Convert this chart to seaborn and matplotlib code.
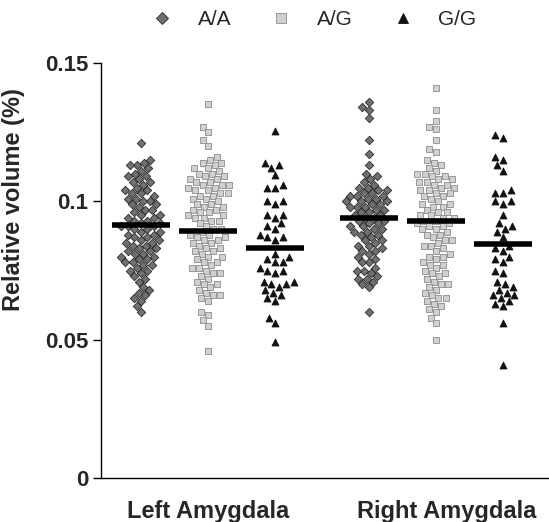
import numpy as np
import pandas as pd
import matplotlib
matplotlib.use("Agg")
import matplotlib.pyplot as plt
import matplotlib.transforms as mtransforms
import seaborn as sns
from matplotlib.lines import Line2D

regions = ["Left Amygdala", "Right Amygdala"]
genotypes = ["A/A", "A/G", "G/G"]

# values (relative volume, %)
left_aa = [0.121,
           0.115, 0.114, 0.113, 0.113, 0.112, 0.111,
           0.110, 0.109, 0.109, 0.108, 0.107, 0.107, 0.106, 0.105, 0.104, 0.104,
           0.103, 0.103, 0.102, 0.101, 0.101, 0.100, 0.100, 0.099, 0.099, 0.098, 0.097, 0.097, 0.096,
           0.095, 0.095, 0.094, 0.094, 0.093, 0.093, 0.092, 0.092, 0.091, 0.091, 0.091, 0.090, 0.090,
           0.089, 0.089, 0.088, 0.088, 0.087, 0.087, 0.086, 0.086, 0.085, 0.085,
           0.084, 0.084, 0.083, 0.083, 0.082, 0.082, 0.081, 0.081, 0.080, 0.080, 0.079, 0.079,
           0.078, 0.078, 0.077, 0.077, 0.076, 0.075, 0.075, 0.074, 0.073, 0.072, 0.071,
           0.069, 0.068, 0.067, 0.066, 0.065, 0.064, 0.062, 0.060]
left_ag = [0.135,
           0.127, 0.125, 0.122, 0.120,
           0.116, 0.115, 0.114, 0.114, 0.113, 0.112, 0.112, 0.111, 0.110, 0.110,
           0.109, 0.109, 0.108, 0.108, 0.107, 0.107, 0.106, 0.106, 0.106, 0.105, 0.105, 0.104,
           0.104, 0.103, 0.103, 0.102, 0.102, 0.101, 0.101, 0.100,
           0.099, 0.099, 0.098, 0.098, 0.097, 0.097, 0.096, 0.096, 0.095, 0.095, 0.094, 0.094,
           0.093, 0.093, 0.092, 0.091, 0.090, 0.090,
           0.089, 0.088, 0.088, 0.087, 0.087, 0.086, 0.086, 0.085, 0.085, 0.084, 0.083, 0.083,
           0.082, 0.082, 0.081, 0.080, 0.080,
           0.079, 0.078, 0.078, 0.077, 0.076, 0.076, 0.075, 0.074, 0.074, 0.073, 0.072, 0.071,
           0.070, 0.070, 0.069, 0.068, 0.067, 0.066, 0.066, 0.065, 0.064,
           0.060, 0.059, 0.057, 0.055, 0.046]
left_gg = [0.1255, 0.114, 0.113, 0.112, 0.1095, 0.106, 0.105, 0.105, 0.100, 0.100, 0.099,
           0.095, 0.095, 0.094, 0.092, 0.091, 0.090, 0.088, 0.087, 0.087, 0.086,
           0.081, 0.080, 0.079, 0.078, 0.078, 0.076, 0.075, 0.075, 0.074,
           0.071, 0.071, 0.070, 0.070, 0.069, 0.068, 0.067, 0.066, 0.065, 0.064,
           0.058, 0.056, 0.049]
right_aa = [0.136, 0.134, 0.133, 0.130,
            0.122, 0.117, 0.113, 0.110, 0.109, 0.108, 0.107, 0.106,
            0.105, 0.105, 0.104, 0.104, 0.103, 0.103, 0.102, 0.102, 0.102, 0.101, 0.101,
            0.100, 0.100, 0.100, 0.099, 0.099, 0.098, 0.098, 0.098, 0.097, 0.097, 0.096, 0.096,
            0.095, 0.095, 0.094, 0.094, 0.093, 0.093, 0.092, 0.092, 0.091, 0.091, 0.090, 0.090,
            0.089, 0.089, 0.088, 0.088, 0.087, 0.086, 0.086, 0.085, 0.084, 0.084, 0.083,
            0.082, 0.082, 0.081, 0.080, 0.079, 0.078, 0.078,
            0.076, 0.075, 0.075, 0.074, 0.073, 0.072, 0.072, 0.071, 0.070, 0.069,
            0.060]
right_ag = [0.141, 0.133, 0.129, 0.127, 0.126, 0.122, 0.119, 0.118,
            0.115, 0.114, 0.113, 0.112, 0.111, 0.110, 0.110,
            0.109, 0.109, 0.108, 0.108, 0.107, 0.107, 0.106, 0.106, 0.105, 0.105, 0.104, 0.104,
            0.103, 0.103, 0.102, 0.102, 0.101, 0.100,
            0.099, 0.099, 0.098, 0.098, 0.097, 0.096, 0.096, 0.095, 0.095, 0.094, 0.094,
            0.093, 0.093, 0.092, 0.092, 0.091, 0.091, 0.090, 0.090,
            0.089, 0.088, 0.088, 0.087, 0.086, 0.086, 0.085, 0.084, 0.084, 0.083, 0.082,
            0.081, 0.080, 0.080,
            0.079, 0.078, 0.077, 0.077, 0.076, 0.075, 0.074, 0.074, 0.073, 0.072, 0.071,
            0.070, 0.070,
            0.069, 0.068, 0.067, 0.066, 0.065, 0.065, 0.064, 0.063, 0.062, 0.061, 0.060,
            0.058, 0.056, 0.050]
right_gg = [0.124, 0.123, 0.116, 0.115, 0.113, 0.111,
            0.104, 0.103, 0.103, 0.100, 0.100, 0.099,
            0.095, 0.092, 0.091, 0.090, 0.089, 0.087,
            0.084, 0.083, 0.082, 0.080, 0.079, 0.078, 0.075, 0.074,
            0.071, 0.070, 0.069, 0.068, 0.067, 0.066, 0.066, 0.065, 0.064, 0.063, 0.062,
            0.056, 0.041]

# group means (black bars)
means_left = [0.0915, 0.0893, 0.0830]
means_right = [0.0940, 0.0930, 0.0846]

markers = {"A/A": "D", "A/G": "s", "G/G": "^"}
sizes = {"A/A": 4.3, "A/G": 4.5, "G/G": 5}
faces = {"A/A": "#707070", "A/G": "#d0d0d0", "G/G": "#111111"}
edges = {"A/A": "#2b2b2b", "A/G": "#8c8c8c", "G/G": "#111111"}

rows = []
for r, groups in zip(regions, [[left_aa, left_ag, left_gg], [right_aa, right_ag, right_gg]]):
    for g, vals in zip(genotypes, groups):
        for v in vals:
            rows.append((r, g, v))
df = pd.DataFrame(rows, columns=["region", "genotype", "volume"])

offset = 0.294
df["pos"] = (df["region"].map({r: i for i, r in enumerate(regions)})
             + (df["genotype"].map({g: i for i, g in enumerate(genotypes)}) - 1) * offset)

sns.set_style("ticks")
plt.rcParams["font.family"] = ["Liberation Sans", "DejaVu Sans"]

fig = plt.figure(figsize=(5.49, 5.22), dpi=100)
ax = fig.add_axes([101 / 549, 1 - 478 / 522, 448 / 549, 415 / 522])

for g in genotypes:
    sub = df[df["genotype"] == g]
    sns.swarmplot(data=sub, x="pos", y="volume", native_scale=True, orient="x",
                  marker=markers[g], color=faces[g], edgecolor=edges[g],
                  linewidth=0.6, size=sizes[g], ax=ax, zorder=3)

# mean bars
half = 0.127
for i, means in enumerate([means_left, means_right]):
    for j, m in enumerate(means):
        xc = i + (j - 1) * offset
        ax.hlines(m, xc - half, xc + half, color="black", lw=4, zorder=5)

ax.set_xlim(-0.469, 1.496)
ax.set_ylim(0, 0.15)
ax.set_yticks([0, 0.05, 0.1, 0.15])
ax.set_yticklabels(["0", "0.05", "0.1", "0.15"], fontweight="bold", fontsize=16)
ax.set_xticks([0, 1])
ax.set_xticklabels(regions, fontweight="bold", fontsize=17)
ax.tick_params(axis="y", length=6, width=1, pad=3, color="black")
ax.tick_params(axis="x", length=0, pad=16)
# right label sits a little right of its group centre in the original
shift = mtransforms.ScaledTranslation(11 / 100, 0, fig.dpi_scale_trans)
lab = ax.get_xticklabels()[1]
lab.set_transform(lab.get_transform() + shift)
ax.set_xlabel("")
ax.set_ylabel("Relative volume (%)", fontweight="bold", fontsize=17)
ax.yaxis.set_label_coords(-0.17, 0.67)
sns.despine(ax=ax)
for s in ["left", "bottom"]:
    ax.spines[s].set_color("black")
    ax.spines[s].set_linewidth(1)

handles = [Line2D([], [], marker=markers[g], ls="none", markersize=6.5,
                  markerfacecolor=faces[g], markeredgecolor=edges[g], markeredgewidth=0.6)
           for g in genotypes]
fig.legend(handles, genotypes, loc="center", bbox_to_anchor=(0.572, 0.962), ncol=3,
           frameon=False, fontsize=15, handlelength=1, handletextpad=1.2, columnspacing=1.9)

fig.savefig("out.png", dpi=100)
